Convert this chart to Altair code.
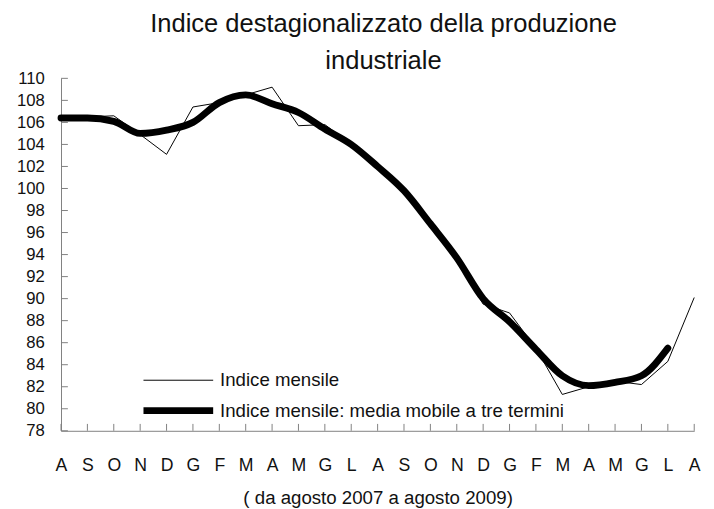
import json
import altair as alt
import pandas as pd

# ---- data ----
months = ["A", "S", "O", "N", "D", "G", "F", "M", "A", "M", "G", "L",
          "A", "S", "O", "N", "D", "G", "F", "M", "A", "M", "G", "L", "A"]
monthly = [106.3, 106.5, 106.6, 104.9, 103.1, 107.4, 107.8, 108.5, 109.2, 105.7, 105.8, 104.0,
           102.0, 100.0, 96.8, 93.6, 89.5, 88.7, 85.5, 81.3, 82.0, 82.5, 82.2, 84.3, 90.1]
moving = [106.4, 106.4, 106.1, 105.0, 105.3, 106.0, 107.8, 108.5, 107.7, 106.9, 105.4, 104.0,
          102.0, 99.8, 96.8, 93.7, 90.0, 87.9, 85.4, 83.0, 82.1, 82.4, 83.0, 85.5]
series_names = ["Indice mensile", "Indice mensile: media mobile a tre termini"]
y_ticks = list(range(78, 111, 2))
title_lines = ["Indice destagionalizzato della produzione", "industriale"]
x_title = "( da agosto 2007 a agosto 2009)"

FONT = "Liberation Sans, Arial, sans-serif"
GRAY = "#808080"
TXT = "#111111"
W, H = 645, 359

df_m = pd.DataFrame({"idx": list(range(len(monthly))), "value": monthly, "series": series_names[0]})
df_a = pd.DataFrame({"idx": list(range(len(moving))), "value": moving, "series": series_names[1]})
df_yt = pd.DataFrame({"value": y_ticks})
df_xt = pd.DataFrame({"idx": list(range(len(months)))})

x_axis = alt.Axis(
    values=list(range(len(months))),
    labelExpr=f"{json.dumps(months)}[datum.value]",
    labelOverlap=False, labelFlush=False,
    tickSize=0, labelPadding=26, grid=False,
    domainColor=GRAY, labelColor=TXT, labelFontSize=18, labelFont=FONT,
    title=x_title, titleFont=FONT, titleFontSize=19, titleFontWeight="normal",
    titleColor=TXT, titlePadding=15,
)
y_axis = alt.Axis(
    values=y_ticks, tickSize=0, labelPadding=17, grid=False, title=None,
    labelOverlap=False, labelFlush=False,
    domainColor=GRAY, labelColor=TXT, labelFontSize=17, labelFont=FONT,
)
x_scale = alt.Scale(domain=[0, len(months) - 1], nice=False)
y_scale = alt.Scale(domain=[78, 110], nice=False, zero=False)

x_enc = alt.X("idx:Q", scale=x_scale, axis=x_axis)
y_enc = alt.Y("value:Q", scale=y_scale, axis=y_axis)

sw = alt.StrokeWidth(
    "series:N",
    scale=alt.Scale(domain=series_names, range=[1, 7]),
    legend=alt.Legend(
        title=None, orient="none", legendX=104, legendY=295,
        symbolType="M-3,0H3", symbolSize=560, symbolStrokeColor="black",
        symbolFillColor="transparent",
        labelFont=FONT, labelFontSize=19, labelColor=TXT, labelOffset=27,
        labelLimit=500, rowPadding=5,
    ),
)

thin = alt.Chart(df_m).mark_line(color="black", interpolate="linear").encode(x=x_enc, y=y_enc, strokeWidth=sw)
thick = alt.Chart(df_a).mark_line(color="black", interpolate="monotone", strokeCap="round").encode(
    x=x_enc, y=y_enc, strokeWidth=sw)

yticks = alt.Chart(df_yt).mark_rule(color=GRAY, strokeWidth=1).encode(
    y=y_enc, x=alt.value(0), x2=alt.value(7))
xticks = alt.Chart(df_xt).mark_rule(color=GRAY, strokeWidth=1).encode(
    x=x_enc, y=alt.value(H), y2=alt.value(H - 7))

chart = alt.layer(thin, thick, yticks, xticks).properties(
    width=W, height=H,
    title=alt.TitleParams(text=title_lines, font=FONT, fontSize=26, fontWeight="normal",
                          lineHeight=37, anchor="middle", offset=4, dy=8, dx=6, color=TXT),
    autosize=alt.AutoSizeParams(type="none"),
    padding={"left": 54, "top": 67, "right": 12, "bottom": 75},
).configure_view(stroke=None)

chart.save("out.html", embed_options={"renderer": "svg", "actions": False})
